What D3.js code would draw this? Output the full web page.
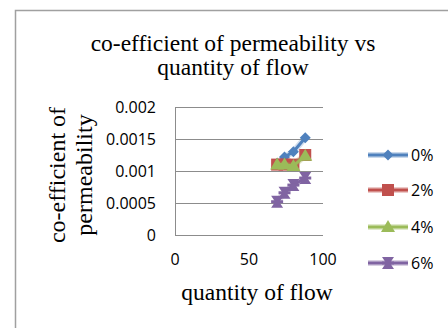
<!DOCTYPE html>
<html>
<head>
<meta charset="utf-8">
<script src="https://cdn.jsdelivr.net/npm/d3@7"></script>
<style>
 body { margin: 0; background: white; }
</style>
</head>
<body>
<div id="svgcontainer"></div>
<script>
var width = 448;
var height = 328;

// data
var flow = [69, 74, 80, 88];
var seriesNames = ["0%", "2%", "4%", "6%"];
var perm0 = [0.00112, 0.00122, 0.0013, 0.00152];
var perm2 = [0.0011, 0.0011, 0.0011, 0.00125];
var perm4 = [0.0011, 0.0011, 0.00108, 0.00124];
var perm6 = [0.00052, 0.00066, 0.00078, 0.00089];
var yTicks = [0, 0.0005, 0.001, 0.0015, 0.002];
var xTicks = [0, 50, 100];
var colors = ["#4F81BD", "#C0504D", "#9BBB59", "#8064A2"];

var allSeries = [perm0, perm2, perm4, perm6];

var svg = d3.select("#svgcontainer")
  .append("svg")
  .attr("width", width)
  .attr("height", height);

// chart border (runs off the right and bottom edges)
svg.append("rect")
  .attr("x", 15.5).attr("y", 10.5)
  .attr("width", 450).attr("height", 340)
  .style("fill", "white")
  .style("stroke", "#a0a0a0")
  .style("stroke-width", 1.5);

var x = d3.scaleLinear().domain([0, 100]).range([175, 323]);
var y = d3.scaleLinear().domain([0, 0.002]).range([235, 107]);

// gridlines
svg.selectAll(".grid")
  .data(yTicks)
  .enter().append("line")
  .attr("x1", x(0)).attr("x2", x(100))
  .attr("y1", d => Math.round(y(d)) + 0.5)
  .attr("y2", d => Math.round(y(d)) + 0.5)
  .style("stroke", "#8c8c8c")
  .style("stroke-width", 1);

svg.append("line")
  .attr("x1", x(0) + 0.5).attr("x2", x(0) + 0.5)
  .attr("y1", y(0.002)).attr("y2", y(0))
  .style("stroke", "#8c8c8c");

// tick labels
var tickFont = "'Open Sans', Lato, sans-serif";
svg.selectAll(".ytick")
  .data(yTicks)
  .enter().append("text")
  .attr("x", 156)
  .attr("y", d => y(d) + 6)
  .attr("text-anchor", "end")
  .style("font-family", tickFont)
  .style("font-size", "16px")
  .text(d => String(d));

svg.selectAll(".xtick")
  .data(xTicks)
  .enter().append("text")
  .attr("x", d => x(d))
  .attr("y", 265)
  .attr("text-anchor", "middle")
  .style("font-family", tickFont)
  .style("font-size", "16px")
  .text(d => d);

// titles
var serif = "'Liberation Serif', 'DejaVu Serif', serif";
svg.append("text")
  .attr("x", 233).attr("y", 51)
  .attr("text-anchor", "middle")
  .style("font-family", serif).style("font-size", "23.5px")
  .text("co-efficient of permeability vs");
svg.append("text")
  .attr("x", 233).attr("y", 75)
  .attr("text-anchor", "middle")
  .style("font-family", serif).style("font-size", "23.5px")
  .text("quantity of flow");

svg.append("text")
  .attr("x", 257).attr("y", 300)
  .attr("text-anchor", "middle")
  .style("font-family", serif).style("font-size", "23.5px")
  .text("quantity of flow");

var yt = svg.append("g").attr("transform", "translate(65,175) rotate(-90)");
yt.append("text")
  .attr("x", 0).attr("y", 0)
  .attr("text-anchor", "middle")
  .style("font-family", serif).style("font-size", "24px")
  .text("co-efficient of");
yt.append("text")
  .attr("x", 0).attr("y", 27)
  .attr("text-anchor", "middle")
  .style("font-family", serif).style("font-size", "24px")
  .text("permeability");

// markers
function marker(sel, i) {
  if (i == 0) {
    sel.append("path").attr("d", "M0,-5.5L5.5,0L0,5.5L-5.5,0Z").style("fill", colors[0]);
  } else if (i == 1) {
    sel.append("rect").attr("x", -6).attr("y", -6).attr("width", 12).attr("height", 12)
      .style("fill", colors[1]);
  } else if (i == 2) {
    sel.append("path").attr("d", "M0,-7L7,5L-7,5Z").style("fill", colors[2]);
  } else {
    sel.append("path").attr("d", "M-6,-6L6,-6L2,0L6,6L-6,6L-2,0Z").style("fill", colors[3]);
    sel.append("rect").attr("x", -6).attr("y", -1.5).attr("width", 12).attr("height", 3)
      .style("fill", colors[3]);
  }
}

var line = d3.line()
  .x((d, i) => x(flow[i]))
  .y(d => y(d));

allSeries.forEach(function (vals, i) {
  // soft glow behind the line
  svg.append("path")
    .datum(vals)
    .attr("d", line)
    .style("fill", "none")
    .style("stroke", colors[i])
    .style("stroke-opacity", 0.25)
    .style("stroke-width", 6);
  svg.append("path")
    .datum(vals)
    .attr("d", line)
    .style("fill", "none")
    .style("stroke", colors[i])
    .style("stroke-width", 3);
  vals.forEach(function (v, j) {
    var g = svg.append("g").attr("transform", "translate(" + x(flow[j]) + "," + y(v) + ")");
    marker(g, i);
  });
});

// legend
var legendY = [155, 190, 227, 263];
seriesNames.forEach(function (name, i) {
  svg.append("line")
    .attr("x1", 368).attr("x2", 408)
    .attr("y1", legendY[i]).attr("y2", legendY[i])
    .style("stroke", colors[i])
    .style("stroke-opacity", 0.3)
    .style("stroke-width", 6);
  svg.append("line")
    .attr("x1", 368).attr("x2", 408)
    .attr("y1", legendY[i]).attr("y2", legendY[i])
    .style("stroke", colors[i])
    .style("stroke-width", 3);
  var g = svg.append("g").attr("transform", "translate(388," + legendY[i] + ")");
  marker(g, i);
  svg.append("text")
    .attr("x", 411).attr("y", legendY[i] + 6)
    .style("font-family", tickFont)
    .style("font-size", "16px")
    .text(name);
});
</script>
</body>
</html>
